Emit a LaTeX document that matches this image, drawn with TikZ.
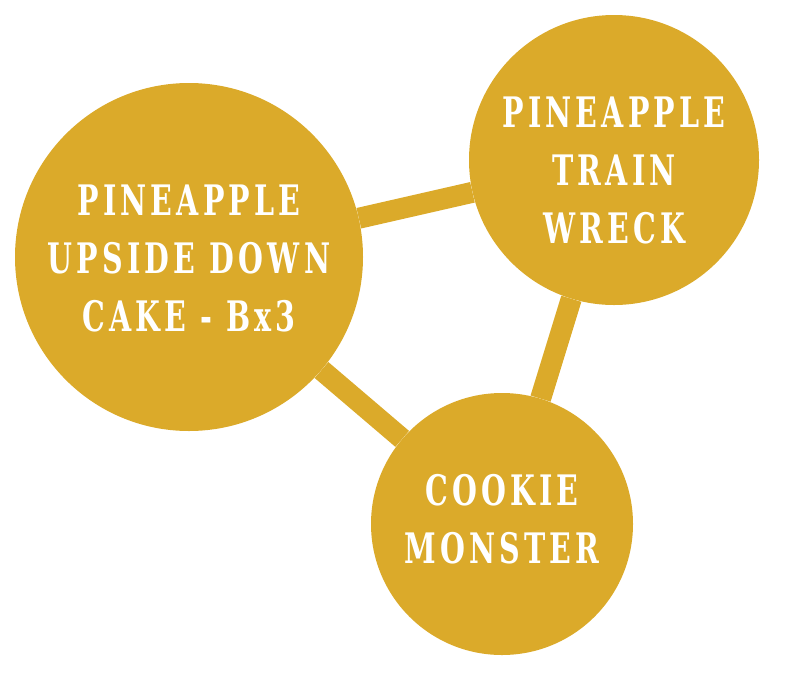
\documentclass[tikz,border=0pt]{standalone}
\usepackage{fontspec}
\newfontfamily\westfont{DejaVu Serif}[FakeStretch=0.68, LetterSpace=10]
\definecolor{gold}{RGB}{219,170,42}
\begin{document}
\begin{tikzpicture}[x=1pt, y=-1pt, line join=round,
    bubble/.style={circle, fill=gold, inner sep=0pt},
    link/.style={draw=gold, line width=21pt},
    lbl/.style={text=white, align=center, inner sep=0pt, font=\westfont\bfseries\fontsize{42}{58}\selectfont}]
    \useasboundingbox (0,0) rectangle (800,678);
    \node[bubble, minimum size=348pt] (cake) at (189,257) {};
    \node[bubble, minimum size=290pt] (train) at (614,160) {};
    \node[bubble, minimum size=262pt] (cookie) at (502,524) {};
    \draw[link] (cake) -- (train);
    \draw[link] (cake) -- (cookie);
    \draw[link] (train) -- (cookie);
    \node[lbl] (cakelbl) at ([yshift=-1pt]cake.center) {PINEAPPLE\\UPSIDE DOWN\\CAKE - Bx3};
    \node[lbl] (trainlbl) at ([yshift=-10pt]train.center) {PINEAPPLE\\TRAIN\\WRECK};
    \node[lbl] (cookielbl) at ([yshift=5pt]cookie.center) {COOKIE\\MONSTER};
\end{tikzpicture}
\end{document}
